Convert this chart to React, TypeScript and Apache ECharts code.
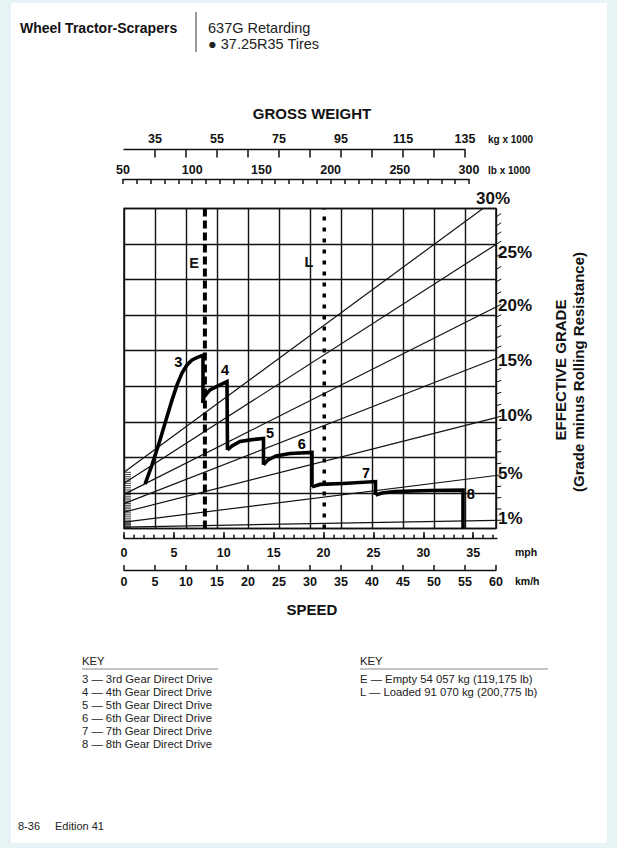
import React, { useEffect, useRef } from "react";
import * as echarts from "echarts";

const FONT = "'Liberation Sans', Arial, Helvetica, sans-serif";
const INK = "#111";

// ---------- Speed scales ----------
const KMH_MAX = 60;
const MPH_MAX = 60 / 1.609344;
const kmhTicks = [0, 5, 10, 15, 20, 25, 30, 35, 40, 45, 50, 55, 60];
const mphMajorTicks = [0, 5, 10, 15, 20, 25, 30, 35];
const mphMinorTicks = [0, 1, 2, 3, 4, 5, 6, 7, 8, 9, 10, 11, 12, 13, 14, 15, 16, 17, 18, 19, 20, 21, 22, 23, 24, 25, 26, 27, 28, 29, 30, 31, 32, 33, 34, 35, 36, 37];

// ---------- Gross weight scales ----------
const kgTicks = [35, 45, 55, 65, 75, 85, 95, 105, 115, 125, 135];
const kgLabels = [35, 55, 75, 95, 115, 135];
const lbTicks = [50, 60, 70, 80, 90, 100, 110, 120, 130, 140, 150, 160, 170, 180, 190, 200, 210, 220, 230, 240, 250, 260, 270, 280, 290, 300];
const lbLabels = [50, 100, 150, 200, 250, 300];

// ---------- Effective grade lines (value at lightest / heaviest weight of the plot) ----------
const grades = [1, 5, 10, 15, 20, 25, 30];
const gradeLabels = ["1%", "5%", "10%", "15%", "20%", "25%", "30%"];
const gradeAtLightest = [0.4, 1.8, 4.6, 7.0, 9.6, 12.7, 15.8];
const gradeAtHeaviest = [2.3, 14.9, 31.2, 47.8, 62.3, 79.9, 92.7];
const WEIGHT_MIN = 25;
const WEIGHT_MAX = 145;

// ---------- Retarding curves: [speed km/h, retarding force (grid units)] ----------
const gear3 = [[3.39, 12.5], [4.52, 17.9], [5.81, 24.9], [6.77, 30.5], [7.74, 36.1], [8.55, 40.4], [9.35, 43.7], [10.16, 46.0], [10.97, 47.4], [11.94, 48.2], [12.9, 48.8], [12.74, 48.5], [12.74, 35.3]];
const gear4 = [[12.74, 35.3], [12.9, 37.0], [13.87, 39.0], [15.16, 40.1], [16.61, 41.3], [16.69, 22.1]];
const gear5 = [[16.69, 22.1], [17.42, 23.2], [18.71, 24.5], [20.65, 25.0], [22.5, 25.3], [22.5, 17.9]];
const gear6 = [[22.5, 17.9], [23.23, 19.3], [24.52, 20.4], [26.77, 21.1], [30.32, 21.4], [30.32, 11.7]];
const gear7 = [[30.32, 11.7], [31.61, 12.4], [35.32, 12.65], [40.56, 13.2], [40.56, 9.4]];
const gear8 = [[40.56, 9.4], [41.61, 10.0], [43.71, 10.4], [49.35, 10.7], [54.68, 10.8], [54.68, 0]];
const gearCurves = [gear3, gear4, gear5, gear6, gear7, gear8];
const gearNames = ["3", "4", "5", "6", "7", "8"];

// ---------- Weight lines ----------
const emptyWeight = 51.1;
const loadedWeight = 89.6;

const keyGears = [
  "3 \u2014 3rd Gear Direct Drive",
  "4 \u2014 4th Gear Direct Drive",
  "5 \u2014 5th Gear Direct Drive",
  "6 \u2014 6th Gear Direct Drive",
  "7 \u2014 7th Gear Direct Drive",
  "8 \u2014 8th Gear Direct Drive",
];
const keyWeights = [
  "E \u2014 Empty 54 057 kg (119,175 lb)",
  "L \u2014 Loaded 91 070 kg (200,775 lb)",
];

function interpGrade(g: number, vals: number[]): number {
  for (let i = 0; i < grades.length - 1; i++) {
    if (g >= grades[i] && g <= grades[i + 1]) {
      const t = (g - grades[i]) / (grades[i + 1] - grades[i]);
      return vals[i] + t * (vals[i + 1] - vals[i]);
    }
  }
  return vals[vals.length - 1];
}

function txt(text: string, x: number, y: number, size: number, opts: any = {}) {
  return {
    type: "text",
    x,
    y,
    rotation: opts.rotation || 0,
    style: {
      text,
      fill: opts.fill || INK,
      fontSize: size,
      fontWeight: opts.bold ? "bold" : "normal",
      fontFamily: FONT,
      textAlign: opts.align || "left",
      textVerticalAlign: "middle",
      align: opts.align || "left",
      verticalAlign: "middle",
    },
  };
}

export default function App() {
  const ref = useRef<HTMLDivElement>(null);

  useEffect(() => {
    const chart = echarts.init(ref.current!, null, { renderer: "svg" });

    const PL = 124, PT = 208.5, PW = 372, PH = 320;

    const hiddenY = (gridIndex: number) => ({ type: "value", gridIndex, show: false, min: 0, max: 1 });

    const scaleAxis = (gridIndex: number, position: string, min: number, max: number, ticks: number[], labels: number[] | null, tickLen: number, showLine: boolean, margin: number) => ({
      type: "value",
      gridIndex,
      position,
      min,
      max,
      axisLine: { show: showLine, onZero: false, lineStyle: { color: INK, width: 1.3 } },
      axisTick: { show: true, inside: true, length: tickLen, customValues: ticks, lineStyle: { color: INK, width: 1.5 } },
      axisLabel: labels
        ? { show: true, customValues: labels, color: INK, fontSize: 12.5, fontWeight: "bold", fontFamily: FONT, margin }
        : { show: false },
      splitLine: { show: false },
    });

    const gradeSeries = grades.map((g, i) => ({
      type: "line",
      xAxisIndex: 1,
      yAxisIndex: 0,
      symbol: "none",
      silent: true,
      clip: true,
      z: 2,
      lineStyle: { color: INK, width: 1.2 },
      data: [[WEIGHT_MIN, gradeAtLightest[i]], [WEIGHT_MAX, gradeAtHeaviest[i]]],
    }));

    const gradeTicks: number[][] = [];
    for (let g = 1; g <= 30; g++) gradeTicks.push([g, 0]);

    const gradeScaleSeries = {
      type: "custom",
      xAxisIndex: 1,
      yAxisIndex: 0,
      silent: true,
      z: 3,
      data: gradeTicks,
      renderItem: (params: any, api: any) => {
        const g = api.value(0);
        const hL = interpGrade(g, gradeAtLightest);
        const hR = interpGrade(g, gradeAtHeaviest);
        const slope = (hR - hL) / (WEIGHT_MAX - WEIGHT_MIN);
        const children: any[] = [];
        const a = api.coord([WEIGHT_MIN, hL]);
        children.push({ type: "line", shape: { x1: a[0], y1: a[1], x2: a[0] + 7, y2: a[1] }, style: { stroke: INK, lineWidth: 0.8 } });
        if (hR <= 89.5) {
          const p1 = api.coord([WEIGHT_MAX, hR]);
          const p2 = api.coord([WEIGHT_MAX + 1.7, hR + slope * 1.7]);
          children.push({ type: "line", shape: { x1: p1[0], y1: p1[1], x2: p2[0], y2: p2[1] }, style: { stroke: INK, lineWidth: 1 } });
        }
        return { type: "group", children };
      },
    };

    const gearSeries = gearCurves.map((d, i) => ({
      type: "line",
      name: "Gear " + gearNames[i],
      xAxisIndex: 0,
      yAxisIndex: 0,
      symbol: "none",
      silent: true,
      z: 5,
      lineStyle: { color: "#000", width: 3.6, join: "miter", cap: "butt" },
      data: d,
    }));

    const weightLine = (w: number, dash: number[], width: number) => ({
      type: "line",
      xAxisIndex: 1,
      yAxisIndex: 0,
      symbol: "none",
      silent: true,
      z: 4,
      lineStyle: { color: "#000", width, type: dash, cap: "butt" },
      data: [[w, 0], [w, 90]],
    });

    // gear label anchor positions (km/h, force units)
    const gearLabelPos = [[8.76, 46.85], [16.29, 44.5], [23.55, 26.9], [28.66, 23.7], [39.03, 15.6], [55.92, 9.65]];
    const gearLabelSeries = {
      type: "custom",
      xAxisIndex: 0,
      yAxisIndex: 0,
      silent: true,
      z: 6,
      data: gearLabelPos.map((p) => [p[0], p[1]]),
      renderItem: (params: any, api: any) => {
        const c = api.coord([api.value(0), api.value(1)]);
        return {
          type: "text",
          x: c[0],
          y: c[1],
          style: {
            text: gearNames[params.dataIndex],
            fill: "#000",
            fontSize: 14.5,
            fontWeight: "bold",
            fontFamily: FONT,
            textAlign: "center",
            textVerticalAlign: "middle",
            align: "center",
            verticalAlign: "middle",
          },
        };
      },
    };

    const gradeLabelY = [518, 473, 415, 360, 305, 252, 198];
    const graphics: any[] = [
      txt("Wheel Tractor-Scrapers", 20, 28, 14, { bold: true }),
      { type: "line", shape: { x1: 196, y1: 12, x2: 196, y2: 52 }, style: { stroke: "#333", lineWidth: 1 } },
      txt("637G Retarding", 208, 28, 14.5, { fill: "#222" }),
      txt("\u25CF 37.25R35 Tires", 208, 44, 14.5, { fill: "#222" }),
      txt("GROSS WEIGHT", 312, 113, 15, { bold: true, align: "center" }),
      txt("kg x 1000", 488, 139, 10, { bold: true }),
      txt("lb x 1000", 488, 170, 10, { bold: true }),
      txt("mph", 515, 552, 10.5, { bold: true }),
      txt("km/h", 515, 581, 10.5, { bold: true }),
      txt("SPEED", 312, 609, 15, { bold: true, align: "center" }),
      txt("EFFECTIVE GRADE", 560, 370, 15, { bold: true, align: "center", rotation: Math.PI / 2 }),
      txt("(Grade minus Rolling Resistance)", 578, 372, 15, { bold: true, align: "center", rotation: Math.PI / 2 }),
      txt("E", 194, 263, 14.5, { bold: true, align: "center" }),
      txt("L", 309, 262, 14.5, { bold: true, align: "center" }),
      txt("KEY", 82, 661, 11.3, { fill: "#222" }),
      { type: "line", shape: { x1: 82, y1: 669, x2: 218, y2: 669 }, style: { stroke: "#888", lineWidth: 1 } },
      txt("KEY", 360, 661, 11.3, { fill: "#222" }),
      { type: "line", shape: { x1: 360, y1: 669, x2: 548, y2: 669 }, style: { stroke: "#888", lineWidth: 1 } },
      txt("8-36", 18, 826, 11, { fill: "#222" }),
      txt("Edition 41", 55, 826, 11, { fill: "#222" }),
    ];
    gradeLabels.forEach((t, i) => {
      if (i === gradeLabels.length - 1) graphics.push(txt(t, 493, gradeLabelY[i], 17, { bold: true, align: "center" }));
      else graphics.push(txt(t, 498, gradeLabelY[i], 17, { bold: true }));
    });
    keyGears.forEach((t, i) => graphics.push(txt(t, 82, 679 + i * 12.9, 11.3, { fill: "#222" })));
    keyWeights.forEach((t, i) => graphics.push(txt(t, 360, 679 + i * 12.9, 11.3, { fill: "#222" })));

    const option: any = {
      animation: false,
      backgroundColor: "transparent",
      textStyle: { fontFamily: FONT },
      grid: [
        { left: PL, top: PT, width: PW, height: PH, show: true, borderColor: INK, borderWidth: 1.5, backgroundColor: "transparent" },
        { left: 124, top: 149.5, width: 341, height: 10 },
        { left: 123, top: 179, width: 346, height: 10 },
        { left: 124, top: 528, width: 373, height: 10 },
        { left: 124, top: 528, width: 373, height: 10 },
        { left: 124, top: 560, width: 372, height: 10 },
      ],
      xAxis: [
        {
          type: "value", gridIndex: 0, min: 0, max: KMH_MAX, interval: 5,
          axisLine: { show: false }, axisTick: { show: false }, axisLabel: { show: false },
          splitLine: { show: true, lineStyle: { color: INK, width: 1.4 } },
        },
        { type: "value", gridIndex: 0, min: WEIGHT_MIN, max: WEIGHT_MAX, show: false },
        scaleAxis(1, "top", 25, 135, kgTicks, kgLabels, 8, true, 4),
        scaleAxis(2, "top", 50, 300, lbTicks, lbLabels, 5, true, 3),
        scaleAxis(3, "bottom", 0, MPH_MAX * 373 / 372, mphMajorTicks, mphMajorTicks, 6, true, 8),
        scaleAxis(4, "bottom", 0, MPH_MAX * 373 / 372, mphMinorTicks, null, 3.3, false, 0),
        scaleAxis(5, "bottom", 0, KMH_MAX, kmhTicks, kmhTicks, 5, true, 5),
      ],
      yAxis: [
        {
          type: "value", gridIndex: 0, min: 0, max: 90, interval: 10,
          axisLine: { show: false }, axisTick: { show: false }, axisLabel: { show: false },
          splitLine: { show: true, lineStyle: { color: INK, width: 1.4 } },
        },
        hiddenY(1), hiddenY(2), hiddenY(3), hiddenY(4), hiddenY(5),
      ],
      series: [
        ...gradeSeries,
        gradeScaleSeries,
        weightLine(emptyWeight, [8, 4], 4),
        weightLine(loadedWeight, [4, 7], 3.5),
        ...gearSeries,
        gearLabelSeries,
      ],
      graphic: graphics,
    };

    chart.setOption(option);
    return () => chart.dispose();
  }, []);

  return (
    <div style={{ position: "fixed", left: 0, top: 0, width: 617, height: 848, background: "#e6f4f6" }}>
      <div style={{ position: "absolute", left: 11, top: 3, width: 596, height: 840, background: "#ffffff" }} />
      <div ref={ref} style={{ position: "absolute", left: 0, top: 0, width: 617, height: 848 }} />
    </div>
  );
}
